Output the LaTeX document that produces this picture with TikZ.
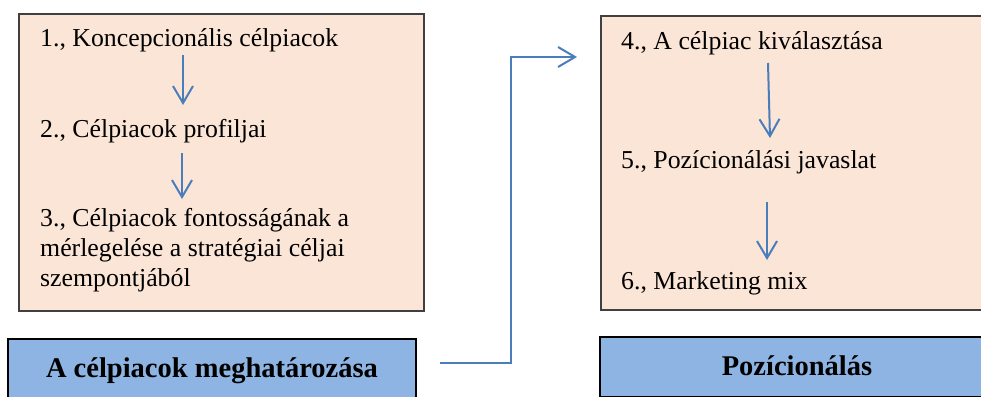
\documentclass[tikz,border=0pt]{standalone}
\usepackage{fontspec}
\setmainfont{Liberation Serif}
\usetikzlibrary{arrows.meta}
\definecolor{panelfill}{HTML}{FBE5D6}
\definecolor{panelline}{HTML}{404040}
\definecolor{titlefill}{HTML}{8DB4E2}
\definecolor{flowblue}{HTML}{4A7EBB}
\tikzset{
  panel/.style={draw=panelline, line width=1.3pt, fill=panelfill},
  titlebox/.style={draw=black, line width=2pt, fill=titlefill, inner sep=0pt,
    font=\fontsize{28.5}{33}\selectfont\bfseries},
  steptext/.style={anchor=base west, inner sep=0pt, font=\fontsize{25.8}{30}\selectfont},
  flow/.style={draw=flowblue, line width=2pt,
    -{Straight Barb[length=17pt,width=20pt]}}
}
\begin{document}
\begin{tikzpicture}[x=1pt,y=-1pt]
\useasboundingbox (0,0) rectangle (981,396);
\clip (0,0) rectangle (981,396);

% the two step panels
\draw[panel] (19,14) rectangle (424,311);
\draw[panel] (601,16) rectangle (994,310);

% titles of the two phases
\node[titlebox, minimum width=408pt, minimum height=59pt,
      text height=23pt, text depth=6pt] (leftbox) at (212,368.5)
  {A célpiacok meghatározása};
\node[titlebox, minimum width=394pt, minimum height=60pt,
      text height=22pt, text depth=6pt] (rightbox) at (797,367)
  {Pozícionálás};

% steps of the first phase
\node[steptext] (t1) at (40,47) {1., Koncepcionális célpiacok};
\node[steptext] (t2) at (40,137) {2., Célpiacok profiljai};
\node[steptext] (t3a) at (40,226) {3., Célpiacok fontosságának a};
\node[steptext] (t3b) at (40,256) {mérlegelése a stratégiai céljai};
\node[steptext] (t3c) at (40,286) {szempontjából};

% steps of the second phase
\node[steptext] (t4) at (621,49) {4., A célpiac kiválasztása};
\node[steptext] (t5) at (621,168) {5., Pozícionálási javaslat};
\node[steptext] (t6) at (621,289) {6., Marketing mix};

% arrow end points between the steps
\coordinate (a1s) at (183,55);  \coordinate (a1e) at (183,105);
\coordinate (a2s) at (182,153); \coordinate (a2e) at (182,199);
\coordinate (a3s) at (768,63);  \coordinate (a3e) at (770,138);
\coordinate (a4s) at (767,202); \coordinate (a4e) at (767,260);

\draw[flow] (a1s) -- (a1e);
\draw[flow] (a2s) -- (a2e);
\draw[flow] (a3s) -- (a3e);
\draw[flow] (a4s) -- (a4e);

% link from the first phase to the second
\coordinate (cs) at (440,363);
\coordinate (ce) at (577,57);
\draw[flow] (cs) -- ++(71,0) |- (ce);
\end{tikzpicture}
\end{document}
